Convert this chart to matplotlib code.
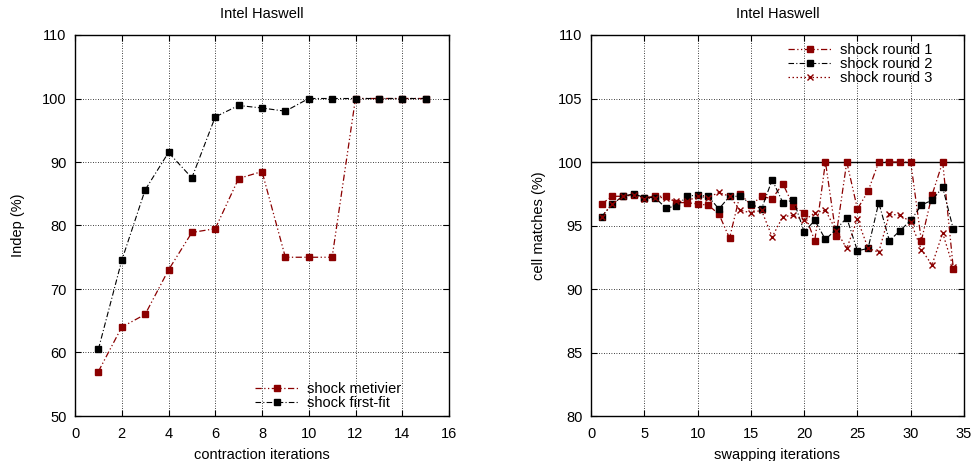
"""
Intel Haswell shock plots
"""
import matplotlib
matplotlib.use('Agg')
import matplotlib.pyplot as plt
import numpy as np

plt.rcParams['font.family'] = ['Liberation Sans', 'DejaVu Sans']
plt.rcParams['font.size'] = 10.5

DARKRED = '#8b0000'

# left: contraction iterations
contraction_x = list(range(1, 16))
metivier = [57.0, 64.0, 66.0, 73.0, 78.9, 79.5, 87.4, 88.5, 75.0, 75.0, 75.0,
            100.0, 100.0, 100.0, 100.0]
first_fit = [60.5, 74.5, 85.6, 91.5, 87.5, 97.1, 98.9, 98.5, 98.0, 100.0, 100.0,
             100.0, 100.0, 100.0, 100.0]

# right: swapping iterations
swap_x = list(range(1, 35))
round1 = [96.7, 97.3, 97.3, 97.4, 97.2, 97.3, 97.3, 96.8, 96.8, 96.7,
          96.6, 95.9, 94.0, 97.5, 96.6, 97.3, 97.1, 98.3, 96.5, 96.0,
          93.8, 100.0, 94.2, 100.0, 96.3, 97.7, 100.0, 100.0, 100.0, 100.0,
          93.8, 97.4, 100.0, 91.6]
round2 = [95.7, 96.7, 97.3, 97.5, 97.2, 97.2, 96.4, 96.5, 97.3, 97.4,
          97.3, 96.3, 97.3, 97.3, 96.7, 96.3, 98.6, 96.8, 97.0, 94.5,
          95.4, 93.9, 94.7, 95.6, 93.0, 93.2, 96.8, 93.8, 94.6, 95.4,
          96.6, 97.0, 98.0, 94.7]
round3 = [95.7, 96.7, 97.3, 97.4, 97.1, 97.2, 97.2, 96.9, 96.9, 97.3,
          97.2, 97.6, 97.3, 96.2, 96.0, 96.2, 94.1, 95.7, 95.8, 95.4,
          96.0, 96.2, 94.6, 93.2, 95.5, 93.2, 92.9, 95.9, 95.8, 95.3,
          93.1, 91.9, 94.4, 91.7]

DASH_DOT_DOT = (0, (5, 2, 1, 2, 1, 2))
DASH_DOT = (0, (5, 2, 1, 2))
DOTTED = (0, (1.2, 2))
FS = 10.5


def style_axes(ax):
    """gnuplot-like frame: inward ticks on all sides, dotted grid"""
    ax.tick_params(direction='in', top=True, right=True, length=4, width=0.8,
                   labelsize=FS)
    ax.tick_params(axis='x', pad=8)
    ax.tick_params(axis='y', pad=6)
    ax.grid(True, color='black', linestyle=(0, (1, 2)), linewidth=0.6)
    for sp in ax.spines.values():
        sp.set_linewidth(1.0)
    ax.set_axisbelow(True)


fig = plt.figure(figsize=(9.77, 4.61), dpi=100)
ax1 = fig.add_axes([75 / 977, 45 / 461, 374 / 977, 381 / 461])
ax2 = fig.add_axes([591 / 977, 45 / 461, 373 / 977, 381 / 461])

# 1. contraction
ax1.plot(contraction_x, metivier, color=DARKRED, linestyle=DASH_DOT_DOT,
         linewidth=0.9, marker='s', markersize=5, label='shock metivier')
ax1.plot(contraction_x, first_fit, color='black', linestyle=DASH_DOT,
         linewidth=0.8, marker='s', markersize=5, label='shock first-fit')
ax1.set_xlim(0, 16)
ax1.set_ylim(50, 110)
ax1.set_xticks(np.arange(0, 17, 2))
ax1.set_yticks(np.arange(50, 111, 10))
ax1.set_title('Intel Haswell', fontsize=FS, pad=12)
ax1.set_xlabel('contraction iterations', fontsize=FS, labelpad=5)
ax1.set_ylabel('Indep (%)', fontsize=FS, labelpad=12.5)
style_axes(ax1)
ax1.legend(loc='lower right', bbox_to_anchor=(0.872, 0.015), frameon=False,
           fontsize=FS, handlelength=3.0, handletextpad=0.55,
           labelspacing=0.02, borderaxespad=0, borderpad=0)

# 2. swapping
ax2.axhline(100, color='black', linewidth=1.0, zorder=1)
ax2.plot(swap_x, round1, color=DARKRED, linestyle=DASH_DOT_DOT,
         linewidth=0.9, marker='s', markersize=5, label='shock round 1')
ax2.plot(swap_x, round2, color='black', linestyle=DASH_DOT,
         linewidth=0.8, marker='s', markersize=5, label='shock round 2')
ax2.plot(swap_x, round3, color=DARKRED, linestyle=DOTTED,
         linewidth=0.9, marker='x', markersize=5, markeredgewidth=1.0,
         label='shock round 3')
ax2.set_xlim(0, 35)
ax2.set_ylim(80, 110)
ax2.set_xticks(np.arange(0, 36, 5))
ax2.set_yticks(np.arange(80, 111, 5))
ax2.set_title('Intel Haswell', fontsize=FS, pad=12)
ax2.set_xlabel('swapping iterations', fontsize=FS, labelpad=5)
ax2.set_ylabel('cell matches (%)', fontsize=FS, labelpad=8.5)
style_axes(ax2)
ax2.legend(loc='upper right', bbox_to_anchor=(0.914, 0.98), frameon=False,
           fontsize=FS, handlelength=3.0, handletextpad=0.55,
           labelspacing=0.0, borderaxespad=0, borderpad=0)

fig.savefig('out.png', dpi=100)
plt.close(fig)
